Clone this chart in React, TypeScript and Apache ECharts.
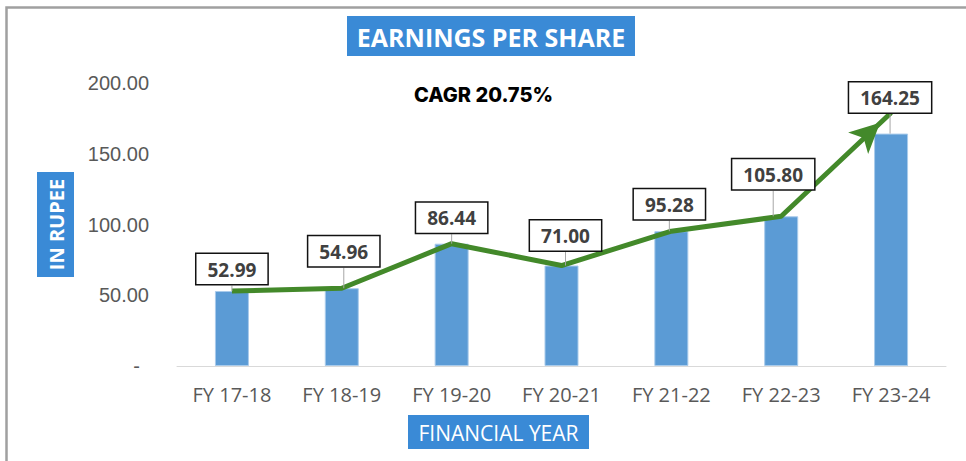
import { useEffect, useRef } from 'react';
import * as echarts from 'echarts';

const categories = ['FY 17-18', 'FY 18-19', 'FY 19-20', 'FY 20-21', 'FY 21-22', 'FY 22-23', 'FY 23-24'];
const epsValues = [52.99, 54.96, 86.44, 71.0, 95.28, 105.8, 164.25];
// trend arrow drawn over the bars; its tip reads about 179 on the scale
const trendValues = [52.99, 54.96, 86.44, 71.0, 95.28, 105.8, 179];
const yMin = 0;
const yMax = 200;
const yStep = 50;
const chartTitle = 'EARNINGS PER SHARE';
const cagrText = 'CAGR 20.75%';
const xAxisTitle = 'FINANCIAL YEAR';
const yAxisTitle = 'IN RUPEE';

// label nudges (layout only)
const labelNudge: [number, number][] = [[0, 0], [2, -15], [0, -4], [4, -8], [-2, -5], [-8, -20], [-1, -14]];

const BOX_BLUE = '#3a8ad6';

export default function App() {
  const ref = useRef<HTMLDivElement>(null);
  useEffect(() => {
    document.body.style.margin = '0';
    const chart = echarts.init(ref.current!, undefined, { renderer: 'svg' });
    const lastIdx = trendValues.length - 1;
    chart.setOption({
      animation: false,
      backgroundColor: '#ffffff',
      grid: { left: 177, right: 20, top: 83, bottom: 95 },
      xAxis: {
        type: 'category',
        data: categories,
        axisLine: { lineStyle: { color: '#d9d9d9', width: 1 } },
        axisTick: { show: false },
        axisLabel: { color: '#595959', fontSize: 20, fontFamily: 'Open Sans', margin: 18 },
      },
      yAxis: {
        type: 'value',
        min: yMin,
        max: yMax,
        interval: yStep,
        splitLine: { show: false },
        axisLine: { show: false },
        axisTick: { show: false },
        axisLabel: {
          color: '#595959',
          fontSize: 20,
          fontFamily: 'Liberation Sans',
          margin: 28,
          formatter: (v: number) => (v === 0 ? '{z|-}' : v.toFixed(2)),
          rich: { z: { color: '#595959', fontSize: 20, fontFamily: 'Liberation Sans', padding: [0, 9, 0, 0] } },
        },
      },
      graphic: [
        {
          type: 'polyline',
          silent: true,
          shape: { points: [[6.5, 461], [6.5, 7.5], [966, 7.5]] },
          style: { stroke: '#a0a0a0', lineWidth: 2.5, fill: null },
        },
        { type: 'rect', shape: { x: 347, y: 16, width: 288, height: 40 }, style: { fill: BOX_BLUE } },
        {
          type: 'text', x: 491, y: 37,
          style: { text: chartTitle, fill: '#ffffff', fontSize: 25, fontWeight: 'bold', fontFamily: 'Open Sans', align: 'center', verticalAlign: 'middle', textAlign: 'center', textVerticalAlign: 'middle' },
        },
        {
          type: 'text', x: 414, y: 95,
          style: { text: cagrText, fill: '#000000', fontSize: 20, fontWeight: 800, fontFamily: 'Inter', align: 'left', verticalAlign: 'middle', textAlign: 'left', textVerticalAlign: 'middle' },
        },
        { type: 'rect', shape: { x: 408, y: 415, width: 181, height: 34 }, style: { fill: BOX_BLUE } },
        {
          type: 'text', x: 498.5, y: 432.5,
          style: { text: xAxisTitle, fill: '#ffffff', fontSize: 21, fontFamily: 'Open Sans', align: 'center', verticalAlign: 'middle', textAlign: 'center', textVerticalAlign: 'middle' },
        },
        { type: 'rect', shape: { x: 37, y: 172, width: 37, height: 105 }, style: { fill: BOX_BLUE } },
        {
          type: 'text', x: 56, y: 224.5, rotation: Math.PI / 2,
          style: { text: yAxisTitle, fill: '#ffffff', fontSize: 20, fontWeight: 'bold', fontFamily: 'Open Sans', align: 'center', verticalAlign: 'middle', textAlign: 'center', textVerticalAlign: 'middle' },
        },
      ],
      series: [
        {
          type: 'bar',
          data: epsValues,
          barWidth: 34,
          z: 2,
          itemStyle: { color: '#5b9bd5', borderColor: '#a9cbeb', borderWidth: 1 },
        },
        {
          type: 'line',
          data: trendValues.map((v, i) =>
            i === lastIdx
              ? { value: v, symbol: 'arrow', symbolSize: [22, 30], symbolRotate: -47, symbolOffset: [-11, 10] }
              : { value: v, symbol: 'none' }
          ),
          showSymbol: true,
          symbol: 'none',
          z: 3,
          lineStyle: { color: '#43892a', width: 5 },
          itemStyle: { color: '#43892a' },
        },
        {
          type: 'bar',
          data: epsValues,
          barWidth: 34,
          barGap: '-100%',
          z: 4,
          silent: true,
          itemStyle: { color: 'rgba(0,0,0,0)' },
          label: {
            show: true,
            position: 'top',
            distance: 7,
            formatter: (p: any) => Number(p.value).toFixed(2),
            color: '#404040',
            fontSize: 19,
            fontWeight: 'bold',
            fontFamily: 'Open Sans',
            backgroundColor: '#ffffff',
            borderColor: '#111111',
            borderWidth: 1.5,
            padding: [6, 11, 5, 11],
          },
          labelLine: { show: true, lineStyle: { color: '#a6a6a6', width: 1 } },
          labelLayout: (p: any) => ({ dx: labelNudge[p.dataIndex][0], dy: labelNudge[p.dataIndex][1] }),
        },
      ],
    });
    return () => chart.dispose();
  }, []);
  return <div ref={ref} style={{ position: 'absolute', left: 0, top: 0, width: 966, height: 461 }} />;
}
